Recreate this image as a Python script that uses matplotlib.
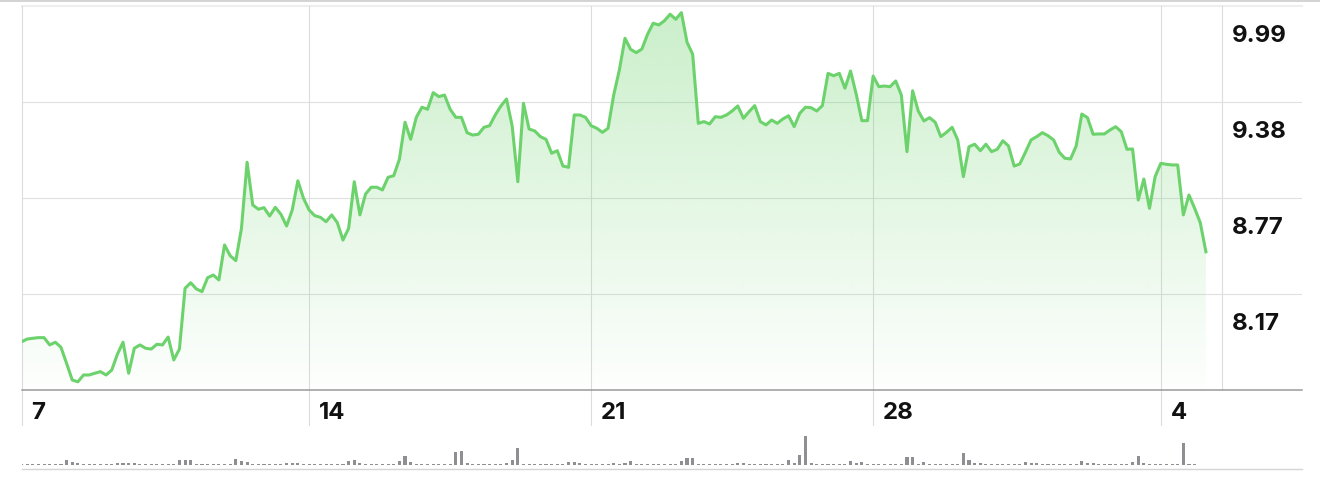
import numpy as np
import matplotlib
matplotlib.use("Agg")
import matplotlib.pyplot as plt
from matplotlib.lines import Line2D

# ---------------- data ----------------
price = [
    7.865, 7.882, 7.887, 7.891, 7.891, 7.845, 7.862, 7.830, 7.728, 7.623,
    7.612, 7.655, 7.655, 7.666, 7.676, 7.655, 7.686, 7.786, 7.862, 7.666,
    7.824, 7.845, 7.824, 7.819, 7.849, 7.845, 7.895, 7.750, 7.819, 8.203,
    8.238, 8.199, 8.182, 8.270, 8.287, 8.256, 8.477, 8.409, 8.378, 8.582,
    9.000, 8.730, 8.703, 8.713, 8.660, 8.715, 8.671, 8.597, 8.698, 8.883,
    8.772, 8.698, 8.662, 8.652, 8.624, 8.667, 8.618, 8.508, 8.582, 8.877,
    8.667, 8.799, 8.842, 8.842, 8.825, 8.905, 8.915, 9.019, 9.253, 9.145,
    9.284, 9.348, 9.335, 9.440, 9.415, 9.425, 9.335, 9.284, 9.284, 9.187,
    9.172, 9.177, 9.221, 9.231, 9.299, 9.356, 9.400, 9.229, 8.877, 9.373,
    9.210, 9.198, 9.162, 9.145, 9.057, 9.073, 8.976, 8.968, 9.299, 9.299,
    9.284, 9.231, 9.215, 9.189, 9.215, 9.425, 9.583, 9.784, 9.714, 9.693,
    9.716, 9.809, 9.879, 9.868, 9.895, 9.936, 9.904, 9.946, 9.759, 9.683,
    9.246, 9.257, 9.242, 9.288, 9.284, 9.299, 9.324, 9.356, 9.278, 9.320,
    9.358, 9.257, 9.236, 9.267, 9.246, 9.274, 9.294, 9.225, 9.310, 9.348,
    9.345, 9.324, 9.358, 9.562, 9.547, 9.562, 9.468, 9.577, 9.430, 9.263,
    9.263, 9.545, 9.478, 9.482, 9.478, 9.514, 9.425, 9.067, 9.452, 9.324,
    9.261, 9.282, 9.253, 9.162, 9.189, 9.221, 9.141, 8.909, 9.098, 9.114,
    9.073, 9.114, 9.067, 9.082, 9.136, 9.103, 8.976, 8.989, 9.063, 9.141,
    9.162, 9.187, 9.168, 9.141, 9.063, 9.025, 9.021, 9.103, 9.305, 9.282,
    9.177, 9.179, 9.179, 9.204, 9.225, 9.193, 9.082, 9.084, 8.761, 8.894,
    8.709, 8.909, 8.993, 8.987, 8.983, 8.983, 8.667, 8.793, 8.709, 8.618,
    8.434,
]

volume = [
    1, 1, 1, 1, 1, 1, 1, 1.5, 5, 3,
    2.5, 1, 1, 1, 1, 1, 1, 2, 2.5, 2.5,
    2.5, 1, 1, 1, 1, 1, 1, 1, 5.5, 5,
    5, 1.3, 1, 1, 1, 1, 1, 1, 6, 4,
    3.5, 1, 1, 1, 1, 1, 1, 2.5, 2, 2,
    1, 1, 1, 1, 1, 1, 1, 1, 4, 5.5,
    2, 1, 1, 1, 1, 1, 1, 4, 9, 3,
    1, 1, 1, 1, 1, 1, 1.5, 13, 14, 2,
    1, 1, 1, 1, 1, 1, 2.5, 5.5, 17, 1,
    1, 1, 1, 1, 1, 1, 1, 3, 3, 2.5,
    1, 1, 1, 1, 1, 2, 1, 2, 4, 1,
    1, 1, 1, 1, 1, 1, 1, 4.5, 7, 7,
    1, 1, 1, 1, 1, 1, 1, 2, 2, 1,
    1, 1, 1, 1, 1, 1, 5, 2, 10, 29,
    2, 1, 1, 1, 1, 1, 1, 4, 2.5, 3,
    1, 1, 1, 1, 1, 1, 1, 8, 8, 1,
    3, 1, 1, 1, 1, 1, 1, 12, 5, 2,
    2, 1, 1, 1, 1, 1, 1, 1, 3.5, 2,
    2, 1, 1, 1, 1, 1, 1, 1, 4, 2,
    2, 1, 1, 1, 1, 1, 1, 3, 9, 2,
    1, 1, 1, 1, 1, 1, 22, 1, 1, 0,
    0,
]

day_ticks = [0, 51, 101, 151, 202]
day_labels = ["7", "14", "21", "28", "4"]
price_top = 9.988
price_step = 0.607
n_bands = 4

# ---------------- style ----------------
GREEN = "#6cd26c"
GRID = "#e0e0e0"
FONT = ["Inter", "DejaVu Sans"]
FS = 17.3

W, H = 1320, 482
fig = plt.figure(figsize=(W / 100, H / 100), dpi=100)
fig.patch.set_facecolor("white")


def fx(px):
    return px / W


def fy(py):
    return 1 - py / H


L, R, T, B = 21.5, 1302, 6, 390
DX = 5.64
ax = fig.add_axes([fx(L), fy(B), fx(R) - fx(L), fy(T) - fy(B)])
ax.axis("off")

x = np.arange(len(price))
ymin = price_top - n_bands * price_step
sep = (1222 - L) / DX

# gradient fill under line
poly = ax.fill_between(x, price, ymin, facecolor="none", edgecolor="none")
rgb = matplotlib.colors.to_rgb(GREEN)
grad = np.zeros((256, 1, 4))
grad[..., 0] = rgb[0]
grad[..., 1] = rgb[1]
grad[..., 2] = rgb[2]
grad[:, 0, 3] = np.linspace(0.36, 0.01, 256)
im = ax.imshow(grad, extent=[0, x[-1], ymin, price_top], aspect="auto",
               origin="upper", zorder=1, interpolation="bilinear")
im.set_clip_path(poly.get_paths()[0], transform=ax.transData)

ax.set_xlim(0, (R - L) / DX)
ax.set_ylim(ymin, price_top)

# horizontal grid
ax.axhline(price_top, color="#eeeeee", lw=1.5, zorder=0, clip_on=False)
for k in range(1, n_bands):
    ax.axhline(price_top - k * price_step, color=GRID, lw=0.8, zorder=0)
ax.axhline(ymin, color="#9a9a9a", lw=1.1, zorder=4, clip_on=False)

# vertical grid
for t in day_ticks:
    ax.plot([t, t], [-0.091, 1], transform=ax.get_xaxis_transform(),
            color="#dcdcdc", lw=0.8, clip_on=False, zorder=0)
ax.plot([sep, sep], [0, 1], transform=ax.get_xaxis_transform(),
        color="#dcdcdc", lw=0.8, clip_on=False, zorder=0)

# price line
ax.plot(x, price, color=GREEN, lw=2.2, zorder=3, solid_joinstyle="round")

# x labels
for t, lab in zip(day_ticks, day_labels):
    ax.annotate(lab, xy=(t, 0), xycoords=("data", "axes fraction"),
                xytext=(10, -29.3), textcoords="offset pixels",
                ha="left", va="baseline", fontsize=FS, fontweight="bold",
                family=FONT, color="#111111", annotation_clip=False)

# y labels
for k in range(n_bands):
    v = price_top - k * price_step
    ax.annotate(f"{v:.2f}", xy=(sep, v), xycoords="data",
                xytext=(10, -36), textcoords="offset pixels",
                ha="left", va="baseline", fontsize=FS, fontweight="bold",
                family=FONT, color="#111111", annotation_clip=False)

# volume
VT, VB = 435, 465
vax = fig.add_axes([fx(L), fy(VB), fx(R) - fx(L), fy(VT) - fy(VB)])
vax.axis("off")
vax.bar(x, volume, width=0.55, color="#8e8e93", linewidth=0)
vax.set_xlim(0, (R - L) / DX)
vax.set_ylim(0, 30)

# frame lines
fig.add_artist(Line2D([0, 1], [fy(0.8), fy(0.8)], transform=fig.transFigure,
                      color="#cccccc", lw=1.2))
fig.add_artist(Line2D([fx(22), fx(1302)], [fy(468.5), fy(468.5)],
                      transform=fig.transFigure, color="#d5d5d5", lw=1.0))

fig.savefig("out.png", dpi=100, facecolor="white")
